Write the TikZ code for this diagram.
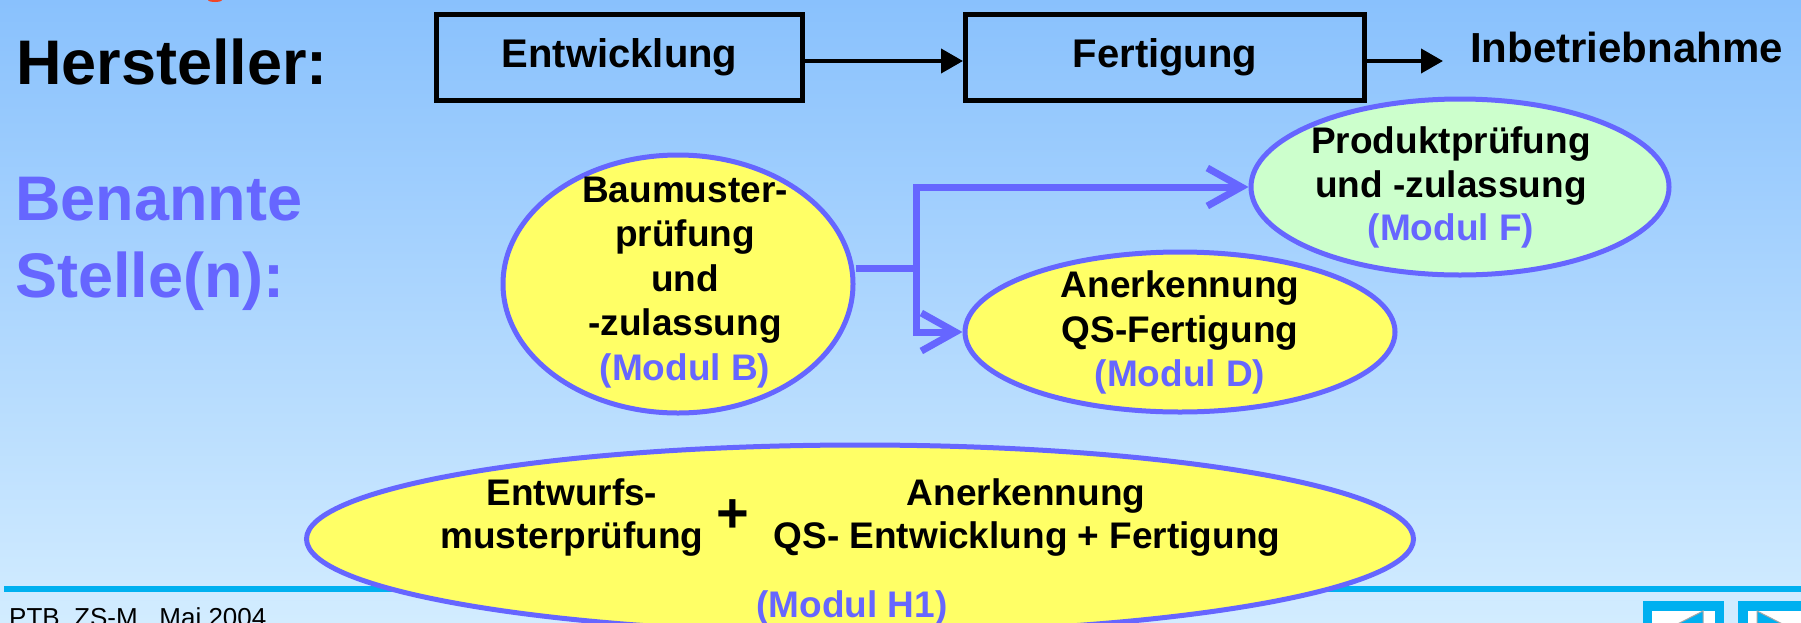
\documentclass[tikz,border=0pt]{standalone}
\usepackage{fontspec}
\setmainfont{Liberation Sans}
\usetikzlibrary{arrows.meta,shapes.geometric}
\definecolor{bgtop}{RGB}{137,193,253}
\definecolor{bgbot}{RGB}{210,236,255}
\definecolor{vio}{RGB}{102,102,255}
\definecolor{ylw}{RGB}{255,255,102}
\definecolor{grn}{RGB}{204,255,204}
\definecolor{cyanline}{RGB}{0,176,240}
\definecolor{redmark}{RGB}{240,70,40}
\tikzset{
  bigtitle/.style={font=\bfseries\fontsize{63}{75}\selectfont, anchor=base west, inner sep=0pt},
  stagebox/.style={draw=black, line width=5pt, minimum height=86pt, inner sep=0pt, font=\bfseries\fontsize{40}{46}\selectfont},
  blackarrow/.style={line width=4pt, -{Triangle[length=22pt,width=24pt]}},
  oval/.style={ellipse, draw=vio, line width=5pt, inner sep=0pt},
  conn/.style={draw=vio, line width=7pt},
  barb/.style={conn, -{Straight Barb[length=34pt,width=38pt]}},
  txt/.style={font=\bfseries\fontsize{37}{44}\selectfont, anchor=base, inner sep=0pt},
  modul/.style={txt, text=vio}
}
\begin{document}
\begin{tikzpicture}[x=1pt,y=-1pt]
\useasboundingbox (0,0) rectangle (1801,622);
\shade[top color=bgtop, bottom color=bgbot] (0,0) rectangle (1801,622);
\fill[redmark] (215,0) ellipse [x radius=7pt, y radius=2pt];

% manufacturer row
\node[bigtitle] (hersteller) at (16,84) {Hersteller:};
\node[stagebox, minimum width=366pt] (entw) at (619.5,57) {Entwicklung};
\node[stagebox, minimum width=399pt] (fert) at (1165,57) {Fertigung};
\coordinate (inbtip) at (1443,61);
\node[font=\bfseries\fontsize{42}{48}\selectfont, anchor=base west, inner sep=0pt] (inb) at (1470,62) {Inbetriebnahme};
\draw[blackarrow] ([yshift=-4pt]entw.east) -- ([yshift=-4pt]fert.west);
\draw[blackarrow] ([yshift=-4pt]fert.east) -- (inbtip);

% notified bodies
\node[bigtitle, text=vio] (benannte) at (15,220) {Benannte};
\node[bigtitle, text=vio] (stelle) at (15,297) {Stelle(n):};

\node[oval, fill=ylw, minimum width=350pt, minimum height=258pt] (B) at (678,284) {};
\node[txt] (b1) at (685,202) {Baumuster-};
\node[txt] (b2) at (685,246) {prüfung};
\node[txt] (b3) at (685,291) {und};
\node[txt] (b4) at (685,335) {-zulassung};
\node[modul] (b5) at (685,380) {(Modul B)};

\node[oval, fill=grn, minimum width=418pt, minimum height=176pt] (F) at (1460,187) {};
\node[txt] (f1) at (1451,153) {Produktprüfung};
\node[txt] (f2) at (1451,197) {und -zulassung};
\node[modul] (f3) at (1451,240) {(Modul F)};

\node[oval, fill=ylw, minimum width=430pt, minimum height=160pt] (D) at (1180,332) {};
\node[txt] (d1) at (1180,297) {Anerkennung};
\node[txt] (d2) at (1180,342) {QS-Fertigung};
\node[modul] (d3) at (1180,386) {(Modul D)};

\coordinate (jn) at (916,268);
\coordinate (jt) at (916,187);
\coordinate (jb) at (916,332);
\draw[conn] (jn -| B.east) -- (jn);
\draw[barb] (jn) -- (jt) -- (F.west);
\draw[barb] (jn) -- (jb) -- (D.west);

% footer line
\coordinate (lineL) at (4,589);
\coordinate (lineR) at (1801,589);
\draw[cyanline, line width=6pt] (lineL) -- (lineR);

% H1
\node[oval, fill=ylw, minimum width=1107pt, minimum height=188pt] (H) at (860,539) {};
\node[txt] (h1a) at (572,505) {Entwurfs-};
\node[txt] (h1b) at (572,548) {musterprüfung};
\node[font=\bfseries\fontsize{56}{56}\selectfont, inner sep=0pt] (plus) at (733,516) {+};
\node[txt] (h1c) at (1026,505) {Anerkennung};
\node[txt] (h1d) at (1027,548) {QS- Entwicklung + Fertigung};
\node[modul] (h1e) at (852,617) {(Modul H1)};

% footer text and icons
\node[font=\fontsize{26}{30}\selectfont, anchor=base west, inner sep=0pt] (ptb) at (9,626) {PTB\ \ ZS-M\ \ \ Maj 2004};
\fill[cyanline] (1643,601) rectangle (1724,640);
\fill[white] (1652,611) rectangle (1715,640);
\filldraw[fill=cyanline, draw=gray!70, line width=1pt] (1660,633) -- (1703,611) -- (1703,655) -- cycle;
\fill[cyanline] (1738,601) rectangle (1819,640);
\fill[white] (1748,611) rectangle (1811,640);
\filldraw[fill=cyanline, draw=gray!70, line width=1pt] (1757,611) -- (1800,633) -- (1757,655) -- cycle;
\end{tikzpicture}
\end{document}
